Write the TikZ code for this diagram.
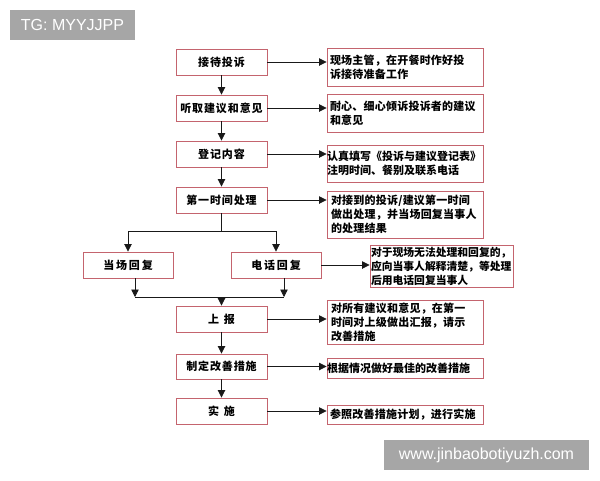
\documentclass[tikz,border=0pt]{standalone}
\usepackage{fontspec}
\setmainfont{Noto Sans CJK SC}
\newfontfamily\cjkl{Noto Sans CJK SC}[LetterSpace=8]
\newfontfamily\cjkr{Noto Sans CJK SC}[LetterSpace=2]
\newfontfamily\cjkn{Noto Sans CJK SC}
\newfontfamily\wm{Liberation Sans}
\usetikzlibrary{arrows.meta}
\definecolor{boxred}{RGB}{196,100,110}
\definecolor{wmgray}{RGB}{166,166,166}
\tikzset{
  lbox/.style={draw=boxred, line width=0.9pt, minimum width=91pt, minimum height=26pt, inner sep=0pt, font=\cjkl\fontsize{11}{14}\selectfont\bfseries},
  rbox/.style={draw=boxred, line width=0.9pt, inner sep=0pt, align=left, font=\cjkr\fontsize{11}{14}\selectfont\bfseries},
  conn/.style={line width=0.8pt, draw=black!90},
  arr/.style={conn, -{Triangle[length=7.5pt,width=7.5pt]}},
  wmbox/.style={fill=wmgray, text=white, inner sep=0pt, font=\wm\fontsize{16}{18}\selectfont}
}
\begin{document}
\begin{tikzpicture}[x=1pt,y=-1pt]
\useasboundingbox (0,0) rectangle (600,480);
\fill[white] (0,0) rectangle (600,480);
% watermarks
\node[wmbox, minimum width=125pt, minimum height=30pt] (wm1) at (72.5,25) {TG: MYYJJPP};
\node[wmbox, minimum width=205pt, minimum height=30pt] (wm2) at (486.5,455) {www.jinbaobotiyuzh.com};
% left column
\node[lbox] (l1) at (221.5,62) {接待投诉};
\node[lbox] (l2) at (221.5,108) {听取建议和意见};
\node[lbox] (l3) at (221.5,154) {登记内容};
\node[lbox] (l4) at (221.5,200) {第一时间处理};
\node[lbox, minimum width=90pt] (s1) at (128,265) {当\,场\,回\,复};
\node[lbox, minimum width=90pt] (s2) at (276,265) {电\,话\,回\,复};
\node[lbox] (l5) at (221.5,319) {上\hspace{5pt}报};
\node[lbox, minimum height=25pt] (l6) at (221.5,366.5) {制定改善措施};
\node[lbox] (l7) at (221.5,411) {实\hspace{5pt}施};
% right column
\node[rbox, minimum width=156pt, minimum height=38pt, text width=150pt] (r1) at (405,67) {现场主管，在开餐时作好投\\诉接待准备工作};
\node[rbox, minimum width=156pt, minimum height=38pt, text width=150pt] (r2) at (405,113) {耐心、细心倾诉投诉者的建议\\和意见};
\node[rbox, minimum width=156pt, minimum height=37pt, text width=156pt, font=\cjkn\fontsize{11}{14}\selectfont\bfseries] (r3) at (405,163.5) {认真填写《投诉与建议登记表》\\注明时间、餐别及联系电话};
\node[rbox, minimum width=156pt, minimum height=47pt, text width=148pt] (r4) at (405,214.5) {对接到的投诉/建议第一时间\\做出处理，并当场回复当事人\\的处理结果};
\node[rbox, minimum width=143pt, minimum height=42pt, text width=141pt, font=\cjkn\fontsize{10.8}{14}\selectfont\bfseries] (r5) at (441.5,266) {对于现场无法处理和回复的，\\应向当事人解释清楚，等处理\\后用电话回复当事人};
\node[rbox, minimum width=156pt, minimum height=44pt, text width=148pt] (r6) at (405,322) {对所有建议和意见，在第一\\时间对上级做出汇报，请示\\改善措施};
\node[rbox, minimum width=156pt, minimum height=20pt, text width=156pt, font=\cjkn\fontsize{11}{14}\selectfont\bfseries] (r7) at (405,368) {根据情况做好最佳的改善措施};
\node[rbox, minimum width=156pt, minimum height=19pt, text width=150pt] (r8) at (405,414.5) {参照改善措施计划，进行实施};
% vertical arrows
\draw[arr] (l1) -- (l2);
\draw[arr] (l2) -- (l3);
\draw[arr] (l3) -- (l4);
\coordinate (split) at (221.5,231);
\draw[conn] (l4) -- (split);
\draw[arr] (split) -| (s1.north);
\draw[arr] (split) -| (s2.north);
\coordinate (join) at (221.5,297);
\draw[arr] ([xshift=7pt]s1.south) -- ([xshift=7pt]s1.south |- join);
\draw[arr] ([xshift=8pt]s2.south) -- ([xshift=8pt]s2.south |- join);
\draw[conn] ([xshift=7pt]s1.south |- join) -- ([xshift=8pt]s2.south |- join);
\draw[arr] (join) -- (l5);
\draw[arr] (l5) -- (l6);
\draw[arr] (l6) -- (l7);
% horizontal arrows
\draw[arr] (l1.east) -- (l1.east -| r1.west);
\draw[arr] (l2.east) -- (l2.east -| r2.west);
\draw[arr] (l3.east) -- (l3.east -| r3.west);
\draw[arr] (l4.east) -- (l4.east -| r4.west);
\draw[arr] (s2.east) -- (s2.east -| r5.west);
\draw[arr] (l5.east) -- (l5.east -| r6.west);
\draw[arr] (l6.east) -- (l6.east -| r7.west);
\draw[arr] (l7.east) -- (l7.east -| r8.west);
\end{tikzpicture}
\end{document}
